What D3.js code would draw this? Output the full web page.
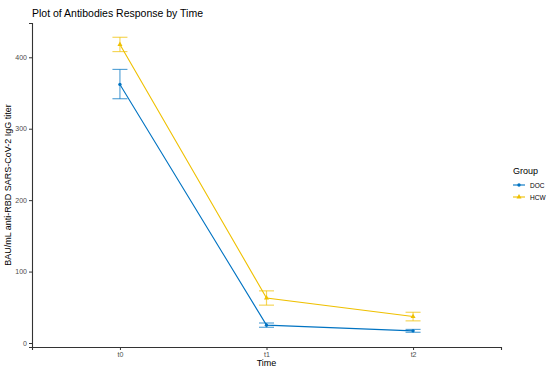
<!DOCTYPE html>
<html>
<head>
<meta charset="utf-8">
<script src="https://cdn.jsdelivr.net/npm/d3@7"></script>
<style>
body{margin:0;background:#fff;}
text{font-family:"Liberation Sans",Arial,sans-serif;}
</style>
</head>
<body>
<script>
var times = ["t0","t1","t2"];
var groups = ["DOC","HCW"];
var colors = ["#0073C2","#EFC000"];
var docMean = [362, 25, 17];
var docLow  = [342, 22, 15];
var docHigh = [383, 28, 19];
var hcwMean = [418, 63, 37];
var hcwLow  = [408, 53, 31];
var hcwHigh = [428, 73, 43];
var yTicks = [0,100,200,300,400];

var margin = {left:32,top:23,right:50,bottom:25};
var width = 501 - margin.left;
var height = 347 - margin.top;

var svg = d3.select("body").append("svg").attr("width",550).attr("height",372);

var x = d3.scaleLinear().domain([0.4,3.6]).range([0,width]);
var y = d3.scaleLinear().domain([-5.6,448]).range([height,0]);

var g = svg.append("g").attr("transform","translate("+margin.left+","+margin.top+")");

var series = [
  {name:groups[0], mean:docMean, low:docLow, high:docHigh, color:colors[0], shape:d3.symbolCircle, size:9},
  {name:groups[1], mean:hcwMean, low:hcwLow, high:hcwHigh, color:colors[1], shape:d3.symbolTriangle, size:11}
];

// error bars
series.forEach(function(s){
  var eb = g.append("g").attr("stroke",s.color).attr("stroke-opacity",0.65).attr("stroke-width",1.2).attr("fill","none");
  times.forEach(function(t,i){
    var cx = x(i+1);
    eb.append("line").attr("x1",cx).attr("x2",cx).attr("y1",y(s.low[i])).attr("y2",y(s.high[i]));
    eb.append("line").attr("x1",cx-7.5).attr("x2",cx+7.5).attr("y1",y(s.low[i])).attr("y2",y(s.low[i]));
    eb.append("line").attr("x1",cx-7.5).attr("x2",cx+7.5).attr("y1",y(s.high[i])).attr("y2",y(s.high[i]));
  });
});

var line = d3.line().x(function(d,i){return x(i+1);}).y(function(d){return y(d);});
series.forEach(function(s){
  var sym = d3.symbol().type(s.shape).size(s.size);
  g.append("path").attr("d",line(s.mean)).attr("fill","none").attr("stroke",s.color).attr("stroke-width",1.1);
  g.selectAll(".pt"+s.name).data(s.mean).enter().append("path")
    .attr("d",sym)
    .attr("transform",function(d,i){return "translate("+x(i+1)+","+y(d)+")";})
    .attr("fill",s.color);
});

// axes
var yAxis = d3.axisLeft(y).tickValues(yTicks).tickSize(3).tickPadding(2);
var xAxis = d3.axisBottom(x).tickValues([1,2,3]).tickFormat(function(d){return times[d-1];}).tickSize(3).tickPadding(2);

var ya = g.append("g").call(yAxis);
var xa = g.append("g").attr("transform","translate(0,"+height+")").call(xAxis);
[ya,xa].forEach(function(a){
  a.select(".domain").attr("stroke","#333").attr("stroke-width",1.1);
  a.selectAll(".tick line").attr("stroke","#333");
  a.selectAll(".tick text").attr("fill","#4D4D4D").style("font-size","7px");
});

svg.append("text").attr("x",32).attr("y",17).text("Plot of Antibodies Response by Time")
  .style("font-size","10.5px").attr("fill","#000");
svg.append("text").attr("x",margin.left+x(2)).attr("y",366).attr("text-anchor","middle")
  .text("Time").style("font-size","9px");
svg.append("text").attr("transform","translate(11,"+(margin.top+height/2)+") rotate(-90)")
  .attr("text-anchor","middle").text("BAU/mL anti-RBD SARS-CoV-2 IgG titer").style("font-size","9px");

// legend
var leg = svg.append("g").attr("transform","translate(513,0)");
leg.append("text").attr("x",0).attr("y",174).text("Group").style("font-size","9px");
series.forEach(function(s,i){
  var ly = 185 + i*12;
  leg.append("line").attr("x1",0).attr("x2",12).attr("y1",ly).attr("y2",ly).attr("stroke",s.color).attr("stroke-width",1.1);
  leg.append("path").attr("d",d3.symbol().type(s.shape).size(s.size)).attr("transform","translate(6,"+ly+")").attr("fill",s.color);
  leg.append("text").attr("x",17).attr("y",ly+2.5).text(s.name).style("font-size","6.5px").attr("fill","#000");
});
</script>
</body>
</html>
